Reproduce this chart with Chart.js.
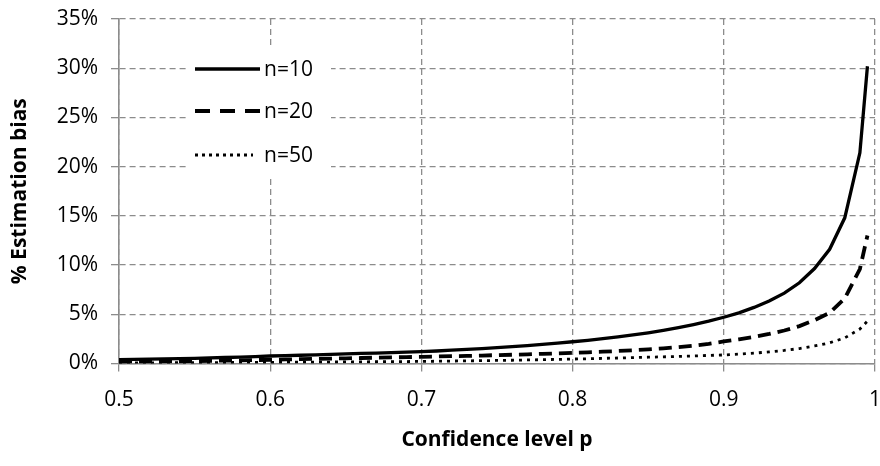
<!DOCTYPE html>
<html><head><meta charset="utf-8">
<script src="https://cdn.jsdelivr.net/npm/chart.js@4.4.1/dist/chart.umd.min.js"></script>
<style>html,body{margin:0;padding:0;background:#fff;}#wrap{width:880px;height:466px;}</style>
</head><body><div id="wrap"><canvas id="c" width="880" height="466"></canvas></div>
<script>
const pValues = [0.50,0.51,0.52,0.53,0.54,0.55,0.56,0.57,0.58,0.59,
  0.60,0.61,0.62,0.63,0.64,0.65,0.66,0.67,0.68,0.69,
  0.70,0.71,0.72,0.73,0.74,0.75,0.76,0.77,0.78,0.79,
  0.80,0.81,0.82,0.83,0.84,0.85,0.86,0.87,0.88,0.89,
  0.90,0.91,0.92,0.93,0.94,0.95,0.96,0.97,0.98,0.99,0.995];
const seriesNames = ['n=10','n=20','n=50'];
const biasN10 = [0.38,0.41,0.44,0.47,0.50,0.53,0.57,0.61,0.65,0.70,
  0.76,0.80,0.84,0.88,0.93,0.98,1.02,1.06,1.10,1.15,
  1.20,1.27,1.35,1.43,1.52,1.61,1.71,1.82,1.94,2.07,
  2.21,2.36,2.52,2.70,2.90,3.12,3.37,3.65,3.96,4.30,
  4.70,5.15,5.70,6.35,7.15,8.20,9.65,11.6,14.8,21.4,30.2];
const biasN20 = [0.18,0.19,0.20,0.22,0.23,0.25,0.27,0.29,0.32,0.35,
  0.38,0.41,0.44,0.47,0.50,0.53,0.56,0.59,0.62,0.65,
  0.68,0.71,0.74,0.77,0.81,0.85,0.89,0.93,0.98,1.03,
  1.08,1.14,1.20,1.27,1.35,1.44,1.54,1.66,1.80,2.00,
  2.24,2.45,2.70,3.00,3.35,3.80,4.40,5.15,6.60,9.60,13.0];
const biasN50 = [0.06,0.06,0.07,0.07,0.08,0.09,0.09,0.10,0.11,0.11,
  0.12,0.13,0.14,0.14,0.15,0.16,0.17,0.18,0.19,0.20,
  0.21,0.23,0.25,0.27,0.29,0.31,0.33,0.36,0.39,0.42,
  0.45,0.48,0.52,0.56,0.60,0.64,0.68,0.72,0.77,0.82,
  0.87,0.95,1.05,1.18,1.33,1.52,1.78,2.10,2.60,3.50,4.30];
const xTickValues = [0.5,0.6,0.7,0.8,0.9,1];
const xTickLabels = ['0.5','0.6','0.7','0.8','0.9','1'];
const yTickValues = [0,5,10,15,20,25,30,35];
const yTickLabels = ['0%','5%','10%','15%','20%','25%','30%','35%'];
const xTitle = 'Confidence level p';
const yTitle = '% Estimation bias';

const FONT = '"Open Sans"';
const FS = 21;
const GRID = '#8c8c8c';
const toPts = arr => pValues.map((p,i)=>({x:p,y:arr[i]}));

const legendPlugin = {
  id:'inlineLegend',
  afterDatasetsDraw(chart){
    const ctx = chart.ctx;
    ctx.save();
    ctx.fillStyle = '#fff';
    ctx.fillRect(186,46,145,130);
    const rows = [69,111,155];
    chart.data.datasets.forEach((ds,i)=>{
      ctx.beginPath();
      ctx.setLineDash(ds.legendDash);
      ctx.lineWidth = ds.borderWidth;
      ctx.strokeStyle = ds.borderColor;
      ctx.moveTo(195,rows[i]); ctx.lineTo(ds.legendEnd,rows[i]);
      ctx.stroke();
      ctx.setLineDash([]);
      ctx.fillStyle = '#000';
      ctx.font = FS + 'px ' + FONT;
      ctx.textBaseline = 'middle';
      ctx.textAlign = 'left';
      ctx.fillText(ds.label,264,rows[i]+1);
    });
    ctx.restore();
  }
};

new Chart(document.getElementById('c'),{
  type:'line',
  data:{datasets:[
    {label:seriesNames[0],data:toPts(biasN10),borderColor:'#000',borderWidth:3.3,borderDash:[],legendDash:[],legendEnd:260,pointRadius:0,tension:0,fill:false},
    {label:seriesNames[1],data:toPts(biasN20),borderColor:'#000',borderWidth:3.8,borderDash:[13,7],legendDash:[15,10],legendEnd:260,pointRadius:0,tension:0,fill:false},
    {label:seriesNames[2],data:toPts(biasN50),borderColor:'#000',borderWidth:2.8,borderDash:[3,5],legendDash:[3,4],legendEnd:253,pointRadius:0,tension:0,fill:false}
  ]},
  options:{
    responsive:false,animation:false,devicePixelRatio:1,
    layout:{padding:{left:0,right:5,top:19,bottom:0}},
    plugins:{legend:{display:false},tooltip:{enabled:false}},
    scales:{
      x:{type:'linear',min:0.5,max:1,
        afterBuildTicks:s=>{s.ticks = xTickValues.map(v=>({value:v}));},
        afterFit:s=>{s.height=102.5;s.paddingLeft=0;s.paddingRight=0;},
        ticks:{callback:(v,i)=>xTickLabels[i],font:{family:FONT,size:FS},color:'#000',padding:16,maxRotation:0,autoSkip:false},
        grid:{color:GRID,lineWidth:1.3,tickLength:8,tickColor:GRID,tickWidth:1.3,tickBorderDash:[]},
        border:{display:true,color:GRID,width:1.6,dash:[6,4]},
        title:{display:true,text:xTitle,color:'#000',font:{family:FONT,size:FS,weight:'bold'},padding:{top:0,bottom:13}}
      },
      y:{type:'linear',min:0,max:35,
        afterBuildTicks:s=>{s.ticks = yTickValues.map(v=>({value:v}));},
        afterFit:s=>{s.width=119;s.paddingTop=0;s.paddingBottom=0;},
        ticks:{callback:(v,i)=>yTickLabels[i],font:{family:FONT,size:FS},color:'#000',padding:13,autoSkip:false},
        grid:{color:GRID,lineWidth:1.3,tickLength:8,tickColor:GRID,tickWidth:1.3,tickBorderDash:[]},
        border:{display:true,color:GRID,width:1.6,dash:[6,4]},
        title:{display:true,text:yTitle,color:'#000',font:{family:FONT,size:FS,weight:'bold'},padding:{top:7,bottom:0}}
      }
    }
  },
  plugins:[legendPlugin]
});
</script></body></html>
